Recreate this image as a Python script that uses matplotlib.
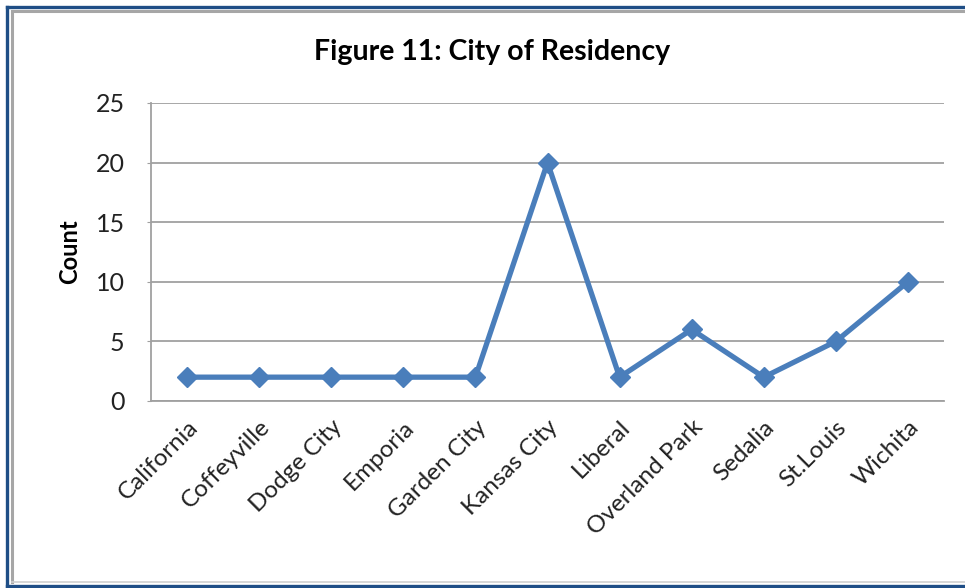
import matplotlib
matplotlib.use("Agg")
import matplotlib.pyplot as plt
from matplotlib.lines import Line2D

cities = ['California', 'Coffeyville', 'Dodge City', 'Emporia', 'Garden City',
          'Kansas City', 'Liberal', 'Overland Park', 'Sedalia', 'St.Louis', 'Wichita']
counts = [2, 2, 2, 2, 2, 20, 2, 6, 2, 5, 10]
y_ticks = [0, 5, 10, 15, 20, 25]

W, H = 965, 588
FONT = ['Lato', 'DejaVu Sans']
LINE_BLUE = '#4a7ebb'

fig = plt.figure(figsize=(W / 100, H / 100), dpi=100)
ax = fig.add_axes([151 / W, 1 - 401 / H, (944 - 151) / W, (401 - 103) / H])

x = list(range(len(cities)))
ax.plot(x, counts, color=LINE_BLUE, linewidth=3.8, marker='D', markersize=10,
        markerfacecolor=LINE_BLUE, markeredgecolor=LINE_BLUE, zorder=3)

ax.set_xlim(-0.5, len(cities) - 0.5)
ax.set_ylim(0, 25)
ax.set_yticks(y_ticks)
ax.set_yticklabels([str(v) for v in y_ticks], family=FONT, fontsize=18, color='#222222')
ax.set_xticks(x)
ax.set_xticklabels(cities, rotation=45, ha='right', rotation_mode='anchor',
                   family=FONT, fontsize=17.5, color='#222222')
ax.tick_params(axis='x', length=0, pad=11)
ax.tick_params(axis='y', length=3, color='#a0a0a0', pad=16)
ax.grid(axis='y', color='#a0a0a0', linewidth=1.3)
ax.set_axisbelow(True)
for side in ['top', 'right']:
    ax.spines[side].set_visible(False)
ax.spines['left'].set_color('#a0a0a0')
ax.spines['bottom'].set_color('#a0a0a0')
ax.spines['left'].set_linewidth(1.3)
ax.spines['bottom'].set_linewidth(1.3)

ax.set_ylabel('Count', family=FONT, fontsize=17, fontweight='bold', labelpad=10)
fig.text(492 / W, 1 - 52 / H, 'Figure 11: City of Residency', family=FONT,
         fontsize=20.5, fontweight='bold', ha='center', va='center')

# frame round the chart: dark blue outer line, gray inner line
def px_line(x0, y0, x1, y1, color, lw):
    fig.add_artist(Line2D([x0 / W, x1 / W], [1 - y0 / H, 1 - y1 / H],
                          transform=fig.transFigure, color=color, linewidth=lw))

px_line(6.5, 6.5, W, 6.5, '#1f4e86', 2.4)
px_line(6.5, 6.5, 6.5, 585.5, '#1f4e86', 2.4)
px_line(6.5, 585.5, W, 585.5, '#1f4e86', 2.4)
px_line(12, 10.5, W, 10.5, '#a6a6a6', 2.2)
px_line(12, 10.5, 12, 582, '#a6a6a6', 2.2)
px_line(12, 582, W, 582, '#d0d0d0', 1.2)

fig.savefig('out.png', dpi=100)
